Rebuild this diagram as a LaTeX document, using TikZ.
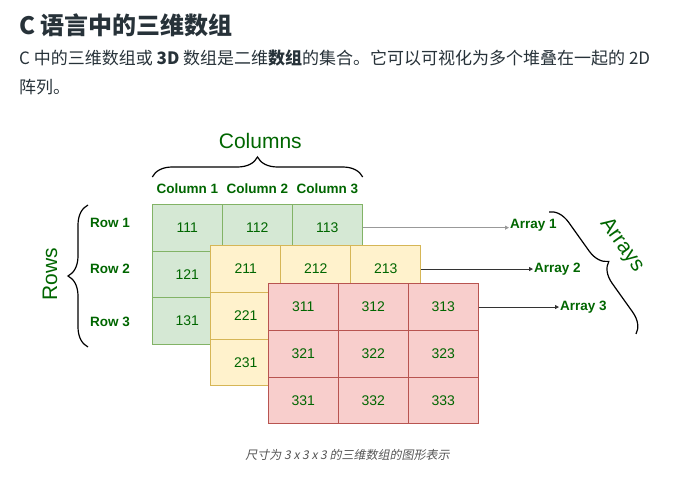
\documentclass[tikz,border=0pt]{standalone}
\usepackage{fontspec}
\setmainfont{Liberation Sans}
\newfontfamily\cjk{Noto Sans CJK SC}
\newfontfamily\cjkit[FakeSlant=0.2]{Noto Sans CJK SC}
\usetikzlibrary{arrows.meta,decorations.pathreplacing}
\definecolor{textDark}{HTML}{273239}
\definecolor{capGray}{HTML}{555555}
\definecolor{labelGreen}{HTML}{006600}
\definecolor{gFill}{HTML}{D5E8D4}
\definecolor{gDraw}{HTML}{82B366}
\definecolor{yFill}{HTML}{FFF2CC}
\definecolor{yDraw}{HTML}{D6B656}
\definecolor{rFill}{HTML}{F8CECC}
\definecolor{rDraw}{HTML}{B85450}
\definecolor{arrGray}{HTML}{999999}
\definecolor{arrDark}{HTML}{333333}
\tikzset{
  cell/.style ={draw, minimum width=70pt, minimum height=46.7pt, inner sep=0pt, line width=0.8pt,
                text=labelGreen, font=\fontsize{14}{16}\selectfont},
  lbl/.style  ={text=labelGreen, font=\bfseries\fontsize{13.5}{16}\selectfont, inner sep=1pt},
  big/.style  ={text=labelGreen, font=\fontsize{21}{24}\selectfont, inner sep=0pt},
  brc/.style  ={decorate, decoration={brace, amplitude=20pt}, line width=1.2pt},
  arr/.style  ={-{Triangle[length=4pt, width=4pt]}, line width=0.8pt},
}

\begin{document}
\begin{tikzpicture}[x=1pt, y=-1pt]
  \fill[white] (0,0) rectangle (682,481);
  \useasboundingbox (0,0) rectangle (682,481);

  % heading and text above the picture
  \node[anchor=west, inner sep=0pt, text=textDark, font=\cjk\bfseries\fontsize{24}{28}\selectfont]
        (title) at (19,25) {C 语言中的三维数组};
  \node[anchor=west, inner sep=0pt, text=textDark, font=\cjk\fontsize{17}{20}\selectfont]
        (body1) at (19,58) {C 中的三维数组或 \textbf{3D} 数组是二维\textbf{数组}的集合。它可以可视化为多个堆叠在一起的 2D};
  \node[anchor=west, inner sep=0pt, text=textDark, font=\cjk\fontsize{17}{20}\selectfont]
        (body2) at (19,87) {阵列。};

  % three stacked 3x3 layers, back to front
  \foreach \l/\fc/\dc/\ox/\oy in {1/gFill/gDraw/152.3/204.3, 2/yFill/yDraw/210.7/245.7, 3/rFill/rDraw/268.3/283.7}
    \foreach \r in {1,2,3}
      \foreach \c in {1,2,3}
        \node[cell, fill=\fc, draw=\dc] (c\l\r\c) at ({\ox+70*\c-35},{\oy+46.7*\r-23.35}) {\l\r\c};

  % columns
  \foreach \c in {1,2,3}
    \node[lbl] (col\c) at ({152.3+70*\c-35},188.3) {Column \c};
  \draw[brc] (152.3,177) -- (362.7,177);
  \node[big] (columns) at (260.3,140.7) {Columns};

  % rows
  \foreach \r/\y in {1/222.7, 2/269, 3/321.7}
    \node[lbl, anchor=west] (row\r) at (89,\y) {Row \r};
  \draw[brc] (88,347) -- (88,205);
  \node[big, rotate=90] (rows) at (50,274) {Rows};

  % arrays
  \node[lbl, anchor=west] (a1) at (509,225.7) {Array 1};
  \node[lbl, anchor=west] (a2) at (533,269.3) {Array 2};
  \node[lbl, anchor=west] (a3) at (559,306.7) {Array 3};
  \draw[arr, draw=arrGray, fill=arrGray] (c113.east) -- (c113.east -| a1.west);
  \draw[arr, draw=arrDark, fill=arrDark] (c213.east) -- (c213.east -| a2.west);
  \draw[arr, draw=arrDark, fill=arrDark] (c313.east) -- (c313.east -| a3.west);
  \draw[brc] (549,212) -- (636,334);
  \node[big, rotate=-54.5] (arrays) at (621.7,245) {Arrays};

  \node[text=capGray, font=\cjkit\fontsize{12}{14}\selectfont] (cap) at (347.5,455)
        {尺寸为 3 x 3 x 3 的三维数组的图形表示};
\end{tikzpicture}
\end{document}
